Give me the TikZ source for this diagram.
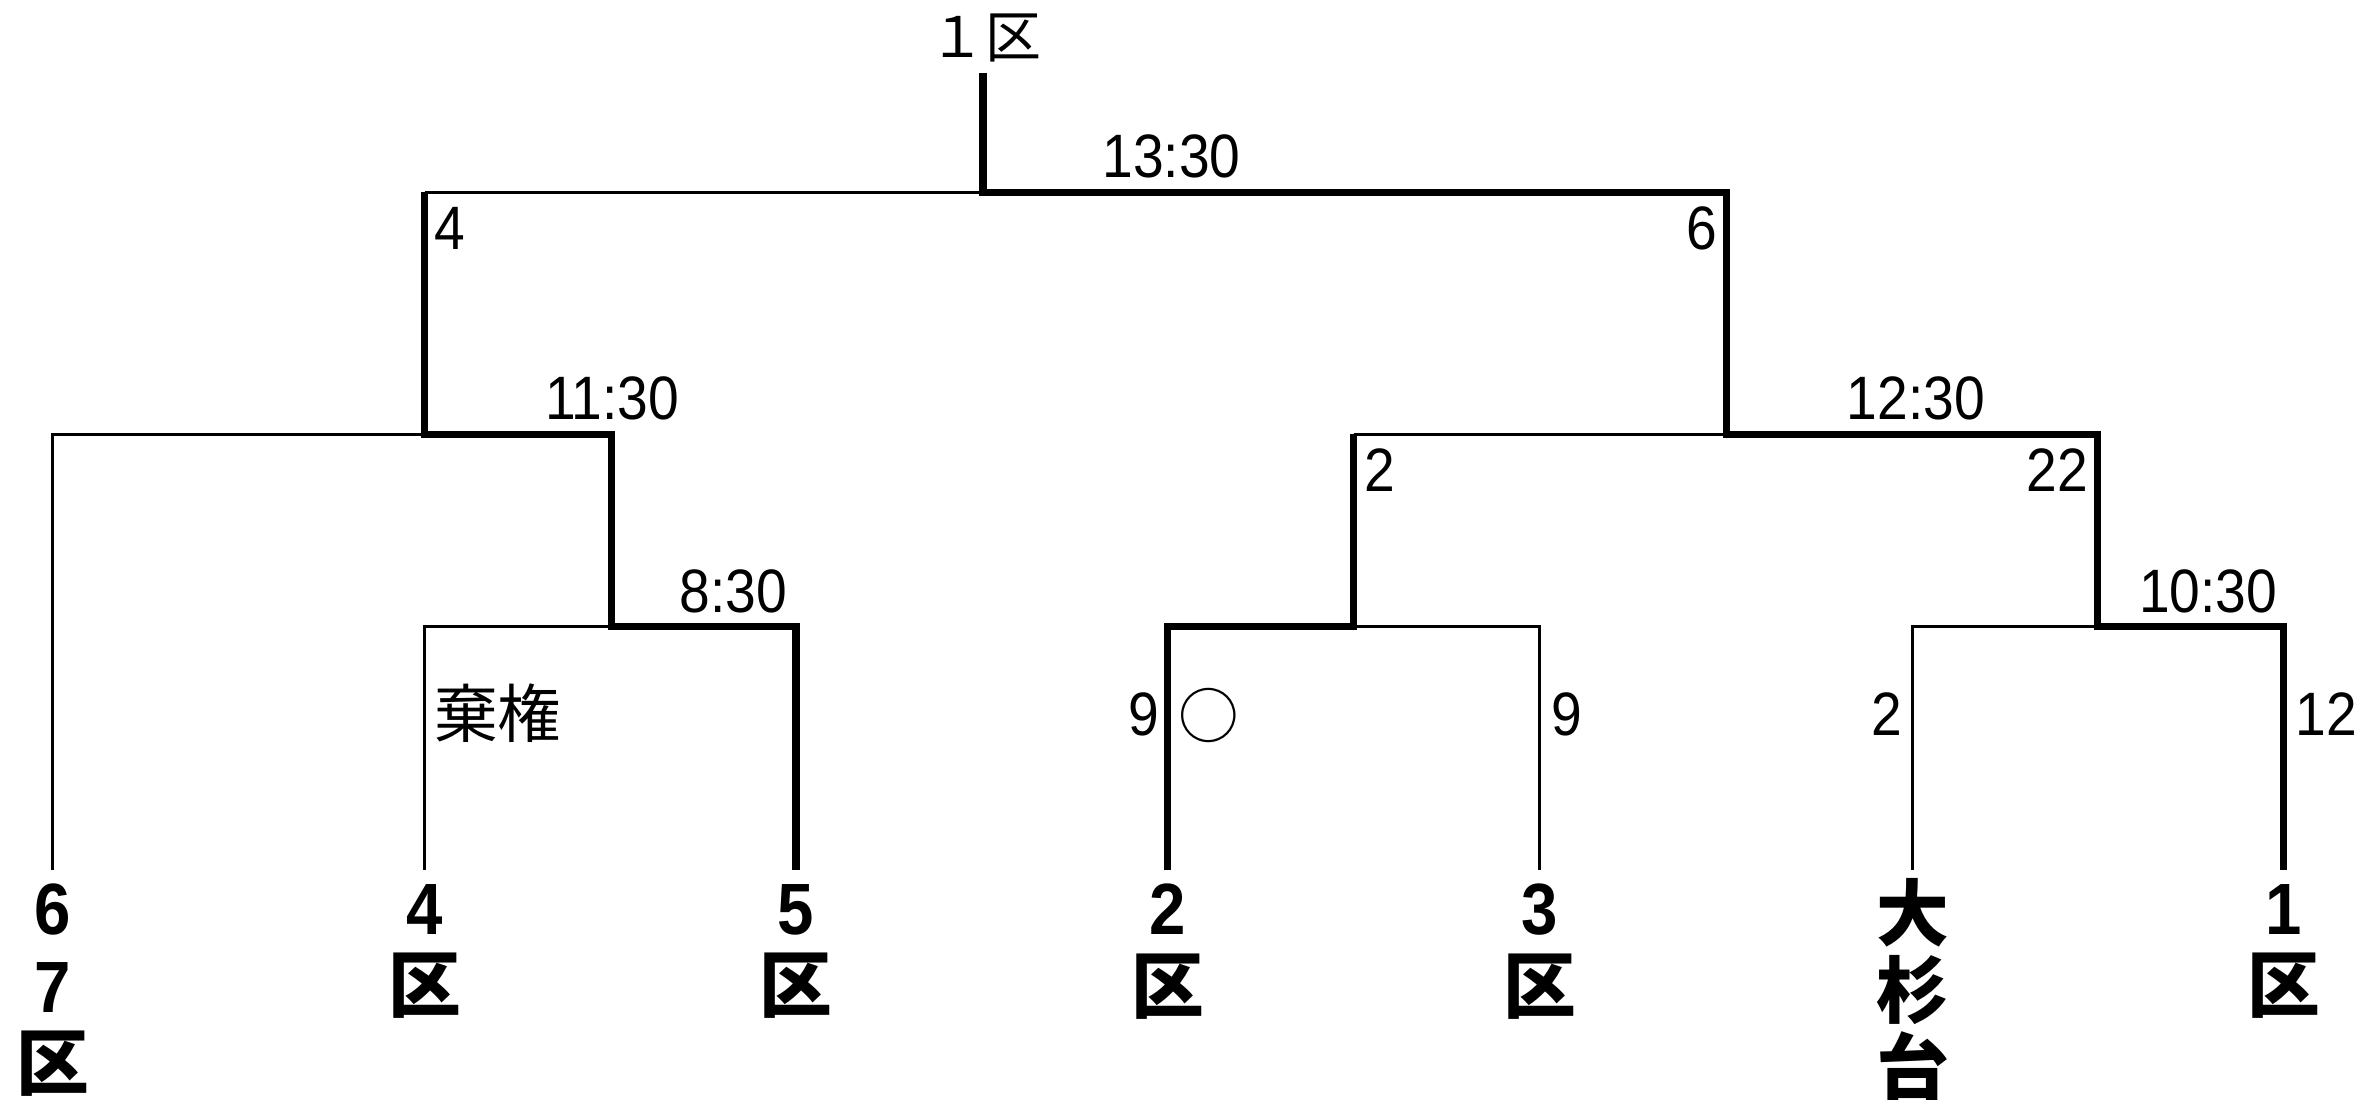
\documentclass[tikz,border=0pt]{standalone}
\usepackage{fontspec}
\setmainfont{Liberation Sans}[FakeStretch=0.9]
\newfontfamily\cjk{Noto Sans CJK JP}
\begin{document}
\begin{tikzpicture}[x=1pt,y=-1pt,
  lose/.style={line width=2pt},
  win/.style={line width=4.8pt},
  score/.style={font=\fontsize{40.5}{44}\selectfont, inner sep=0pt, anchor=base},
  team/.style={font=\bfseries\fontsize{48}{51}\selectfont, inner sep=0pt, anchor=north, align=center},
  jp/.style={font=\cjk\fontsize{42}{46}\selectfont, inner sep=0pt}
]
\useasboundingbox (0,0) rectangle (1568,726.2);
% junctions
\coordinate (lA) at (35,575);
\coordinate (lB) at (280.5,575);
\coordinate (lC) at (526,575);
\coordinate (lD) at (771.5,575);
\coordinate (lE) at (1017.5,575);
\coordinate (lF) at (1264,575);
\coordinate (lG) at (1509,575);
\coordinate (m1) at (404,414);
\coordinate (m2) at (280.5,287);
\coordinate (m3) at (894.5,414);
\coordinate (m4) at (1386,414);
\coordinate (m5) at (1141,287);
\coordinate (f) at (649.5,127);
\coordinate (top) at (649.5,48);
% losing lines
\draw[lose] (lA) |- (m2);
\draw[lose] (lB) |- (m1);
\draw[lose] (m2 |- f) -- (f);
\draw[lose] (m3 |- m5) -- (m5);
\draw[lose] (lE) |- (m3);
\draw[lose] (lF) |- (m4);
% winning lines
\draw[win] (top) -- (f) -| (m5) -| (m4) -| (lG);
\draw[win] (lC) |- (m1) |- (m2) -- (m2 |- f);
\draw[win] (lD) |- (m3) -- (m3 |- m5);
% top label
\node[jp, font=\cjk\fontsize{37}{40}\selectfont] (t0) at (651,25) {１区};
% scores and times
\node[score] (s1330) at (774,117) {13:30};
\node[score] (s4) at (297.5,165) {4};
\node[score] (s6) at (1124.5,165) {6};
\node[score] (s1130) at (404.5,277) {11:30};
\node[score] (s1230) at (1266,277) {12:30};
\node[score] (s2a) at (912,324.5) {2};
\node[score] (s22) at (1359.5,324.5) {22};
\node[score] (s830) at (484.5,405) {8:30};
\node[score] (s1030) at (1459,405) {10:30};
\node[score] (s9a) at (755.5,486) {9};
\node[score] (s9b) at (1035,486) {9};
\node[score] (s2b) at (1247,486) {2};
\node[score] (s12) at (1537,486) {12};
\node[jp] (kiken) at (329,471) {棄権};
\node[jp, font=\cjk\fontsize{40}{44}\selectfont] (maru) at (799,473) {○};
% teams
\node[team] (tA) at (35,584) {6\\7\\{\cjk 区}};
\node[team] (tB) at (280.5,584) {4\\{\cjk 区}};
\node[team] (tC) at (526,584) {5\\{\cjk 区}};
\node[team] (tD) at (771.5,584) {2\\{\cjk 区}};
\node[team] (tE) at (1017.5,584) {3\\{\cjk 区}};
\node[team] (tF) at (1264,580) {{\cjk 大}\\{\cjk 杉}\\{\cjk 台}};
\node[team] (tG) at (1509,584) {1\\{\cjk 区}};
\end{tikzpicture}
\end{document}
